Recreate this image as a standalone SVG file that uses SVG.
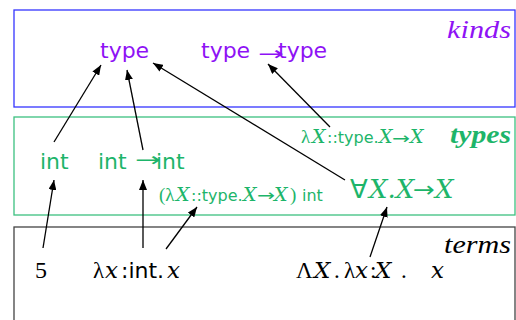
<svg xmlns="http://www.w3.org/2000/svg" width="516" height="320" viewBox="0 0 516 320">
<style>
.sans{font-family:"DejaVu Sans",sans-serif}
.ser{font-family:"Liberation Serif",serif}
.dser{font-family:"DejaVu Serif","Liberation Serif",serif}
.it{font-style:italic}
.pur{fill:#8e12f5}
.grn{fill:#1db56a}
.blk{fill:#000}
.ar{font-family:"DejaVu Sans",sans-serif}
.ln{stroke:#000;stroke-width:1.3;fill:none;marker-end:url(#ah)}
</style>
<defs>
<marker id="ah" viewBox="0 0 10 8" refX="10" refY="4" markerWidth="10" markerHeight="8" markerUnits="userSpaceOnUse" orient="auto">
<path d="M0,0 L10,4 L0,8 Z" fill="#000"/>
</marker>
</defs>
<rect id="kinds-box" x="14" y="10" width="501" height="97" fill="none" stroke="#3535ff" stroke-width="1.3"/>
<rect id="types-box" x="14" y="117" width="501" height="98" fill="none" stroke="#3cc080" stroke-width="1.3"/>
<rect id="terms-box" x="14" y="227" width="501" height="100" fill="none" stroke="#444" stroke-width="1.3"/>

<g id="label-kinds"><text x="447" y="38" textLength="64" lengthAdjust="spacingAndGlyphs" class="ser it pur" font-size="26">kinds</text></g>
<g id="label-types"><text x="450" y="143" textLength="61" lengthAdjust="spacingAndGlyphs" class="ser it grn" font-size="26" font-weight="bold">types</text></g>
<g id="label-terms"><text x="444" y="253" textLength="67" lengthAdjust="spacingAndGlyphs" class="ser it blk" font-size="26">terms</text></g>

<g id="k-type"><text x="100" y="58" class="sans pur" font-size="22">type</text></g>
<g id="k-type-arrow">
<text class="pur" font-size="22"><tspan x="201" y="58" class="sans">type</tspan><tspan x="278" y="58" class="sans">type</tspan></text>
<text x="258" y="59.5" class="ar pur" font-size="19" textLength="26" lengthAdjust="spacingAndGlyphs">→</text>
</g>

<g id="t-int"><text x="40" y="169" class="sans grn" font-size="22">int</text></g>
<g id="t-int-arrow">
<text class="grn" font-size="22"><tspan x="98" y="169" class="sans">int</tspan><tspan x="156" y="169" class="sans">int</tspan></text>
<text x="135" y="166" class="ar grn" font-size="19" textLength="26" lengthAdjust="spacingAndGlyphs">→</text>
</g>
<g id="t-lam">
<text class="grn" font-size="19"><tspan x="301" y="143" class="ser">λ</tspan><tspan x="312" class="dser it">X</tspan><tspan x="327" class="sans" font-size="16">::type.</tspan><tspan x="379" class="dser it">X</tspan><tspan x="410" y="143" class="dser it">X</tspan></text>
<text x="392" y="144" class="ar grn" font-size="16" textLength="18" lengthAdjust="spacingAndGlyphs">→</text>
</g>
<g id="t-app">
<text class="grn" font-size="19"><tspan x="159" y="201" class="ser">(λ</tspan><tspan x="176" class="dser it">X</tspan><tspan x="191" class="sans" font-size="16">::type.</tspan><tspan x="243" class="dser it">X</tspan><tspan x="274" y="201" class="dser it">X</tspan><tspan x="290" class="ser">)</tspan><tspan x="302" class="sans" font-size="16">int</tspan></text>
<text x="257" y="201" class="ar grn" font-size="16" textLength="18" lengthAdjust="spacingAndGlyphs">→</text>
</g>
<g id="t-forall">
<text class="grn" font-size="26"><tspan x="350" y="198" class="ser">∀</tspan><tspan x="369" class="dser it">X.X</tspan><tspan x="435" y="198" class="dser it">X</tspan></text>
<text x="413" y="197" class="ar grn" font-size="22" textLength="22" lengthAdjust="spacingAndGlyphs">→</text>
</g>

<g id="e-5"><text x="35" y="278" class="ser blk" font-size="24">5</text></g>
<g id="e-lam"><text y="278" class="blk" font-size="23"><tspan x="93" class="ser">λ</tspan><tspan x="105" class="dser it">x</tspan><tspan x="121" class="sans" font-size="22">:int.</tspan><tspan x="167" class="dser it">x</tspan></text></g>
<g id="e-tlam"><text y="278" class="blk" font-size="23"><tspan x="296" class="ser">Λ</tspan><tspan x="314" class="dser it">X</tspan><tspan x="334" class="ser">.</tspan><tspan x="344" class="ser">λ</tspan><tspan x="355" class="dser it">x</tspan><tspan x="370" class="ser">:</tspan><tspan x="375" class="dser it">X</tspan><tspan x="401" class="ser">.</tspan><tspan x="431" class="dser it">x</tspan></text></g>

<g id="connectors">
<line class="ln" x1="54" y1="142" x2="101" y2="65"/>
<line class="ln" x1="143" y1="150" x2="127" y2="70"/>
<line class="ln" x1="345" y1="180" x2="153" y2="63"/>
<line class="ln" x1="330" y1="127" x2="268" y2="64"/>
<line class="ln" x1="43" y1="248" x2="54" y2="180"/>
<line class="ln" x1="143" y1="248" x2="143" y2="180"/>
<line class="ln" x1="166" y1="249" x2="197" y2="207"/>
<line class="ln" x1="370" y1="257" x2="387" y2="207"/>
</g>
</svg>
